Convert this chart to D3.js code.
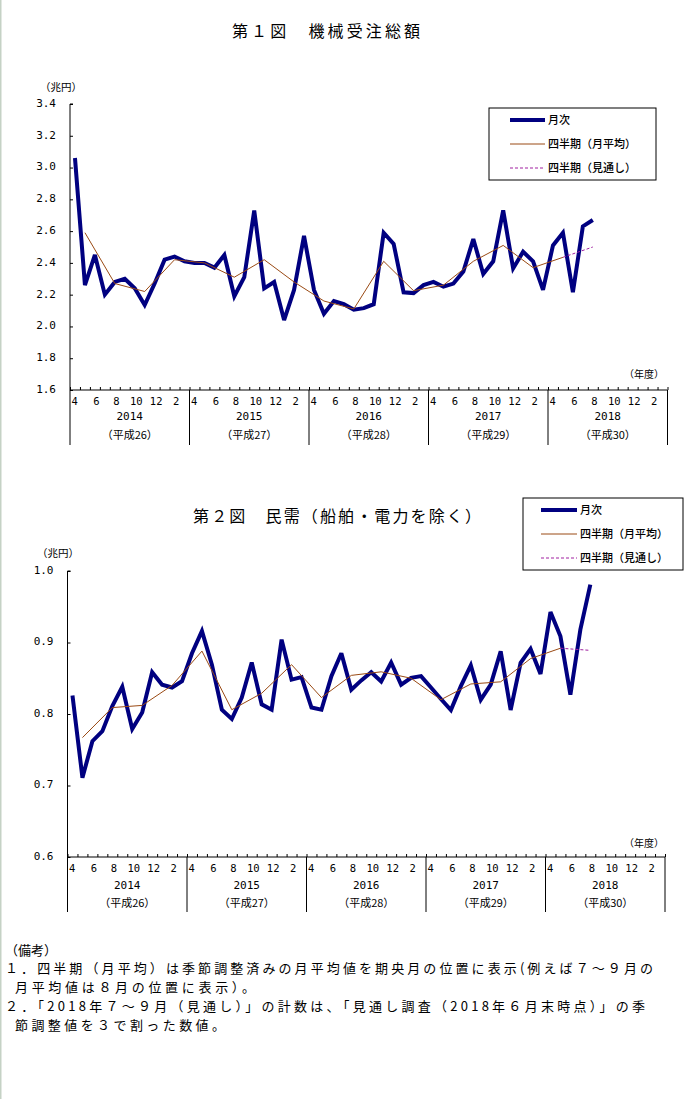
<!DOCTYPE html>
<html><head><meta charset="utf-8">
<script src="https://cdn.jsdelivr.net/npm/d3@7"></script>
<style>
html,body{margin:0;padding:0;background:#fff;}
svg{display:block;}
text{font-family:"Noto Sans CJK JP","Noto Sans",sans-serif;fill:#000;}
.num{font-family:"DejaVu Sans Mono","Liberation Mono",monospace;}
</style></head>
<body>
<script>
// ---------- data ----------
const monthLabels = ["4","6","8","10","12","2"];
const monthLabelIdx = [0,2,4,6,8,10];
const fiscalYears = ["2014","2015","2016","2017","2018"];
const eraYears = ["（平成26）","（平成27）","（平成28）","（平成29）","（平成30）"];

// 第1図 機械受注総額 (兆円), monthly Apr 2014 - Aug 2018
const total_monthly = [3.06,2.26,2.45,2.20,2.28,2.30,2.24,2.135,2.27,2.42,2.44,2.41,
  2.40,2.40,2.37,2.45,2.19,2.31,2.73,2.24,2.28,2.04,2.23,2.57,
  2.23,2.08,2.16,2.14,2.105,2.115,2.14,2.59,2.52,2.215,2.21,2.26,
  2.28,2.25,2.27,2.345,2.55,2.33,2.41,2.73,2.365,2.47,2.41,2.23,
  2.51,2.59,2.215,2.63,2.67];
// quarterly monthly average, plotted at mid-quarter month (index 1,4,7,...)
const total_quarterly = [2.59,2.27,2.22,2.42, 2.40,2.31,2.42,2.28, 2.16,2.11,2.41,2.225,
  2.26,2.41,2.51,2.37, 2.435];
const total_forecast = [2.435,2.50];
const total_yTicks = [1.6,1.8,2.0,2.2,2.4,2.6,2.8,3.0,3.2,3.4];

// 第2図 民需（船舶・電力を除く） (兆円)
const private_monthly = [0.826,0.711,0.762,0.776,0.811,0.838,0.779,0.802,0.8585,0.841,0.837,0.846,
  0.885,0.916,0.869,0.806,0.793,0.823,0.872,0.8135,0.806,0.904,0.848,0.8515,
  0.809,0.806,0.853,0.885,0.834,0.847,0.8585,0.8455,0.872,0.841,0.8506,0.853,
  0.837,0.821,0.8056,0.839,0.868,0.820,0.841,0.8877,0.8056,0.8715,0.891,0.856,
  0.9425,0.9086,0.827,0.918,0.981];
const private_quarterly = [0.767,0.809,0.812,0.840, 0.888,0.806,0.829,0.869,
  0.823,0.854,0.859,0.850, 0.820,0.842,0.845,0.8775, 0.892];
const private_forecast = [0.892,0.889];
const private_yTicks = [0.6,0.7,0.8,0.9,1.0];

const legendLabels = ["月次","四半期（月平均）","四半期（見通し）"];
const notes = [
  "（備考）",
  "１．四半期（月平均）は季節調整済みの月平均値を期央月の位置に表示(例えば７～９月の",
  "月平均値は８月の位置に表示）。",
  "２．「2018年７～９月（見通し）」の計数は、「見通し調査（2018年６月末時点）」の季",
  "節調整値を３で割った数値。"
];

// ---------- drawing ----------
const W = 685, H = 1099;
const svg = d3.select("body").append("svg").attr("width", W).attr("height", H);
svg.append("rect").attr("x",0).attr("y",0).attr("width",W).attr("height",H).attr("fill","#fff");
svg.append("rect").attr("x",0).attr("y",0).attr("width",1.5).attr("height",H).attr("fill","#c5d2c5");

const NAVY = "#000080", BROWN = "#9a4a14", PURPLE = "#a020a0";

function drawChart(o) {
  const g = svg.append("g");
  const x = d3.scaleLinear().domain([0, 60]).range([o.x0, o.x1]);
  const y = d3.scaleLinear().domain(o.yDomain).range([o.yBottom, o.yTop]);
  const px = i => x(i + 0.5);

  // title
  g.append("text").attr("x", o.titleX).attr("y", o.titleY).attr("dy","0.35em")
    .attr("font-size", 16).attr("textLength", o.titleLen).attr("lengthAdjust","spacing")
    .text(o.title);
  // unit
  g.append("text").attr("x", o.unitX).attr("y", o.unitY).attr("dy","0.35em")
    .attr("font-size", 10.5).text("（兆円）");
  // fiscal-year unit
  g.append("text").attr("x", 624).attr("y", o.nendoY).attr("dy","0.35em")
    .attr("font-size", 10).text("（年度）");

  // y axis
  const yAxis = d3.axisRight(y).tickValues(o.yTicks).tickSize(3).tickFormat("");
  const ya = g.append("g").attr("transform", `translate(${o.x0},0)`).call(yAxis);
  ya.select(".domain").attr("stroke","#000").attr("d", `M3,${o.yTop}H0V${o.yBottom}`);
  ya.selectAll(".tick line").attr("stroke","#000");
  g.selectAll(".ylab").data(o.yTicks).join("text").attr("class","num")
    .attr("x", o.x0 - 14).attr("y", d => y(d) - 1).attr("dy","0.35em")
    .attr("text-anchor","end").attr("font-size", 11).text(d => d.toFixed(1));

  // x axis (month ticks upward)
  const xAxis = d3.axisTop(x).tickValues(d3.range(0, 61)).tickSize(3).tickFormat("");
  const xa = g.append("g").attr("transform", `translate(0,${o.yBottom})`).call(xAxis);
  xa.select(".domain").attr("stroke","#000").attr("d", `M${o.x0},0H${o.x1}`);
  xa.selectAll(".tick line").attr("stroke","#000");
  // year dividers
  g.selectAll(".ydiv").data(d3.range(0, 6)).join("line")
    .attr("x1", d => x(d*12)).attr("x2", d => x(d*12))
    .attr("y1", o.yBottom).attr("y2", o.yBottom + o.divLen)
    .attr("stroke","#000").attr("stroke-width",1);
  // month labels
  const mlabs = [];
  for (let yI = 0; yI < 5; yI++) monthLabelIdx.forEach((m, k) => mlabs.push({i: yI*12 + m, t: monthLabels[k], first: k === 0}));
  g.selectAll(".mlab").data(mlabs).join("text").attr("class","num")
    .attr("x", d => d.first ? x(d.i) + 1.5 : px(d.i) + 1.5)
    .attr("y", o.yBottom + o.mLabDy).attr("dy","0.35em")
    .attr("text-anchor", d => d.first ? "start" : "middle")
    .attr("font-size", 10.5).text(d => d.t);
  g.selectAll(".fylab").data(fiscalYears).join("text").attr("class","num")
    .attr("x", (d, k) => x(k*12 + 6)).attr("y", o.yBottom + o.yrDy).attr("dy","0.35em")
    .attr("text-anchor","middle").attr("font-size", 11).text(d => d);
  g.selectAll(".erlab").data(eraYears).join("text")
    .attr("x", (d, k) => x(k*12 + 6)).attr("y", o.yBottom + o.eraDy).attr("dy","0.35em")
    .attr("text-anchor","middle").attr("font-size", 11).text(d => d);

  // lines
  const lineM = d3.line().x((d, i) => px(i)).y(d => y(d));
  g.append("path").attr("d", lineM(o.monthly)).attr("fill","none")
    .attr("stroke", NAVY).attr("stroke-width", 4).attr("stroke-linejoin","miter").attr("stroke-miterlimit", 3);
  const lineQ = d3.line().x((d, i) => px(1 + 3*i)).y(d => y(d));
  g.append("path").attr("d", lineQ(o.quarterly)).attr("fill","none")
    .attr("stroke", BROWN).attr("stroke-width", 1);
  const lineF = d3.line().x((d, i) => px(49 + 3*i)).y(d => y(d));
  g.append("path").attr("d", lineF(o.forecast)).attr("fill","none")
    .attr("stroke", PURPLE).attr("stroke-width", 1).attr("stroke-dasharray","3,2");

  // legend
  const L = o.legend;
  g.append("rect").attr("x", L.x).attr("y", L.y).attr("width", L.w).attr("height", L.h)
    .attr("fill","#fff").attr("stroke","#000").attr("stroke-width",1);
  const styles = [
    {c: NAVY, w: 4, dash: null},
    {c: BROWN, w: 1, dash: null},
    {c: PURPLE, w: 1, dash: "3,2"}
  ];
  legendLabels.forEach((lab, k) => {
    const yy = L.y + L.rows[k];
    g.append("line").attr("x1", L.lx1).attr("x2", L.lx2).attr("y1", yy).attr("y2", yy)
      .attr("stroke", styles[k].c).attr("stroke-width", styles[k].w)
      .attr("stroke-dasharray", styles[k].dash);
    g.append("text").attr("x", L.lx2 + 3).attr("y", yy).attr("dy","0.35em")
      .attr("font-size", 11).attr("font-weight", "500").text(lab);
  });
}

drawChart({
  title: "第１図　機械受注総額", titleX: 232, titleY: 31, titleLen: 188,
  unitX: 40, unitY: 87, nendoY: 374,
  x0: 70, x1: 667.5, yTop: 104, yBottom: 390, yDomain: [1.6, 3.4], yTicks: total_yTicks,
  divLen: 55, mLabDy: 11, yrDy: 26, eraDy: 45,
  monthly: total_monthly, quarterly: total_quarterly, forecast: total_forecast,
  legend: {x: 489, y: 108, w: 167, h: 72, rows: [12, 36, 60], lx1: 510, lx2: 545}
});

drawChart({
  title: "第２図　民需（船舶・電力を除く）", titleX: 193, titleY: 516, titleLen: 288,
  unitX: 37, unitY: 553, nendoY: 843,
  x0: 67.5, x1: 665, yTop: 571, yBottom: 857, yDomain: [0.6, 1.0], yTicks: private_yTicks,
  divLen: 55, mLabDy: 11, yrDy: 28, eraDy: 46,
  monthly: private_monthly, quarterly: private_quarterly, forecast: private_forecast,
  legend: {x: 523, y: 498, w: 160, h: 72, rows: [12, 36, 60], lx1: 541, lx2: 577}
});

// notes
const noteY = [950, 968, 987, 1006, 1025];
const noteX = [5, 5, 15, 5, 15];
const noteLen = [52, 648, 240, 640, 210];
svg.selectAll(".note").data(notes).join("text")
  .attr("x", (d, i) => noteX[i]).attr("y", (d, i) => noteY[i]).attr("dy","0.35em")
  .attr("font-size", 13).attr("textLength", (d, i) => noteLen[i]).attr("lengthAdjust","spacing")
  .text(d => d);
</script>
</body></html>
